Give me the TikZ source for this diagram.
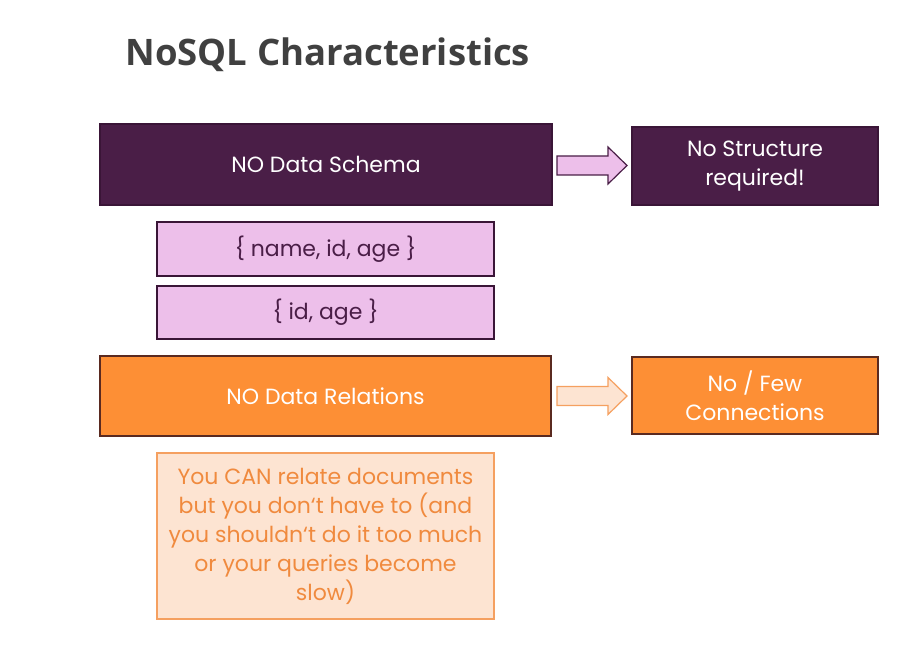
\documentclass[tikz,border=0pt]{standalone}
\usepackage{fontspec}
\setmainfont{Poppins}
\newfontfamily\titlefont{Open Sans}
\definecolor{darkpurp}{HTML}{4A1E47}
\definecolor{purpedge}{HTML}{3A1537}
\definecolor{pinkfill}{HTML}{EDBFEA}
\definecolor{orangefill}{HTML}{FD8F35}
\definecolor{orangeedge}{HTML}{5A2A20}
\definecolor{peachfill}{HTML}{FDE4D2}
\definecolor{peachedge}{HTML}{F5A060}
\definecolor{peachtext}{HTML}{F08A3E}
\definecolor{titlegray}{HTML}{404040}
\tikzset{
  box/.style={draw, line width=1.2pt, minimum width=#1, inner sep=0pt, align=center, font=\fontsize{22}{29}\selectfont},
  darkbox/.style={box=#1, fill=darkpurp, draw=purpedge, text=white},
  pinkbox/.style={box=#1, fill=pinkfill, draw=purpedge, text=darkpurp},
  orbox/.style={box=#1, fill=orangefill, draw=orangeedge, text=white},
  peachbox/.style={box=#1, fill=peachfill, draw=peachedge, text=peachtext},
  fatarrow/.style={line width=1.2pt, line join=miter}
}
\begin{document}
\begin{tikzpicture}[x=1pt,y=-1pt]
\useasboundingbox (0,0) rectangle (911,663);
\node[font=\titlefont\bfseries\fontsize{36.5}{42}\selectfont, text=titlegray, anchor=base west] (title) at (122,66) {NoSQL Characteristics};

\node[darkbox=452pt, minimum height=81pt] (schema) at (326,164.5) {NO Data Schema};
\node[darkbox=246pt, minimum height=78pt] (struct) at (755,166) {No Structure\\required!};
\coordinate (a1) at (557,165.5);
\draw[fatarrow, fill=pinkfill, draw=darkpurp] (a1) ++(0,-9.5) -- ++(51,0) -- ++(0,-9) -- ++(19,18.5) -- ++(-19,18.5) -- ++(0,-9) -- ++(-51,0) -- cycle;

\node[pinkbox=337pt, minimum height=54pt] (d1) at (325.5,249) {\{ name, id, age \}};
\node[pinkbox=337pt, minimum height=53pt] (d2) at (325.5,312.5) {\{ id, age \}};

\node[orbox=451pt, minimum height=80pt] (rel) at (325.5,396) {NO Data Relations};
\node[orbox=246pt, minimum height=77pt] (conn) at (755,395.5) {No / Few\\Connections};
\coordinate (a2) at (557,396);
\draw[fatarrow, fill=peachfill, draw=peachedge] (a2) ++(0,-9.5) -- ++(51,0) -- ++(0,-9) -- ++(19,18.5) -- ++(-19,18.5) -- ++(0,-9) -- ++(-51,0) -- cycle;

\node[peachbox=337pt, minimum height=166pt] (note) at (325.5,536) {You CAN relate documents\\but you don‘t have to (and\\you shouldn‘t do it too much\\or your queries become\\slow)};
\end{tikzpicture}
\end{document}
